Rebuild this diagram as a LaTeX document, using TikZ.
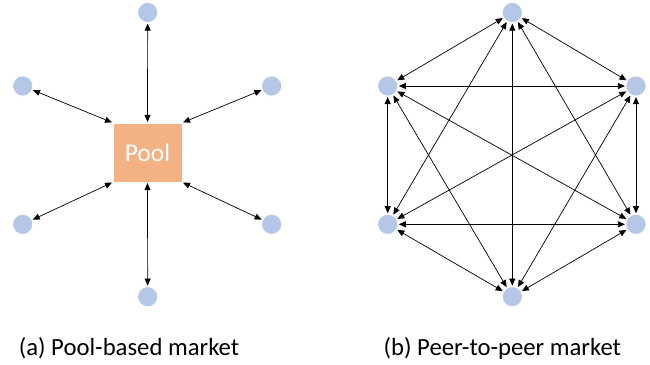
\documentclass[tikz,border=0pt]{standalone}
\usepackage{fontspec}
\setmainfont{Carlito}
\usetikzlibrary{arrows.meta}
\definecolor{nodeblue}{HTML}{B4C7E7}
\definecolor{poolorange}{HTML}{F4B183}
\begin{document}
\begin{tikzpicture}[x=1pt,y=-1pt,
  peer/.style={circle,fill=nodeblue,draw=white,line width=0.6pt,minimum size=20pt,inner sep=0pt},
  poolbox/.style={rectangle,fill=poolorange,draw=white,line width=0.6pt,minimum width=69pt,minimum height=59pt,text=white,font=\fontsize{25.5}{30}\selectfont},
  link/.style={line width=0.7pt,{Triangle[length=7pt,width=6pt]}-{Triangle[length=7pt,width=6pt]},shorten <=0.8pt,shorten >=0.8pt},
  caption/.style={font=\fontsize{24.7}{28}\selectfont,inner sep=0pt,anchor=base}]
\useasboundingbox (0,0) rectangle (650,364);
% (a) pool-based
\node[poolbox] (pool) at (147.5,152.5) {Pool};
\node[peer] (a1) at (147.7,12.5) {};
\node[peer] (a2) at (22.7,86) {};
\node[peer] (a3) at (271.7,86) {};
\node[peer] (a4) at (22.7,224.3) {};
\node[peer] (a5) at (271.7,224.3) {};
\node[peer] (a6) at (147.7,296.7) {};
\draw[link] (a1) -- (pool.north);
\draw[link] (a2) -- (pool.north west);
\draw[link] (a3) -- (pool.north east);
\draw[link] (a4) -- (pool.south west);
\draw[link] (a5) -- (pool.south east);
\draw[link] (a6) -- (pool.south);
\node[caption] (capa) at (129,355) {(a) Pool-based market};
% (b) peer-to-peer
\node[peer] (b1) at (512.3,12.5) {};
\node[peer] (b2) at (387.7,86) {};
\node[peer] (b3) at (636,86) {};
\node[peer] (b4) at (387.7,224.3) {};
\node[peer] (b5) at (636,224.3) {};
\node[peer] (b6) at (512.3,296.7) {};
\foreach \i/\j in {b1/b2,b1/b3,b1/b4,b1/b5,b1/b6,b2/b3,b2/b4,b2/b5,b2/b6,b3/b4,b3/b5,b3/b6,b4/b5,b4/b6,b5/b6}
  \draw[link] (\i) -- (\j);
\node[caption] (capb) at (502.3,355) {(b) Peer-to-peer market};
\end{tikzpicture}
\end{document}
